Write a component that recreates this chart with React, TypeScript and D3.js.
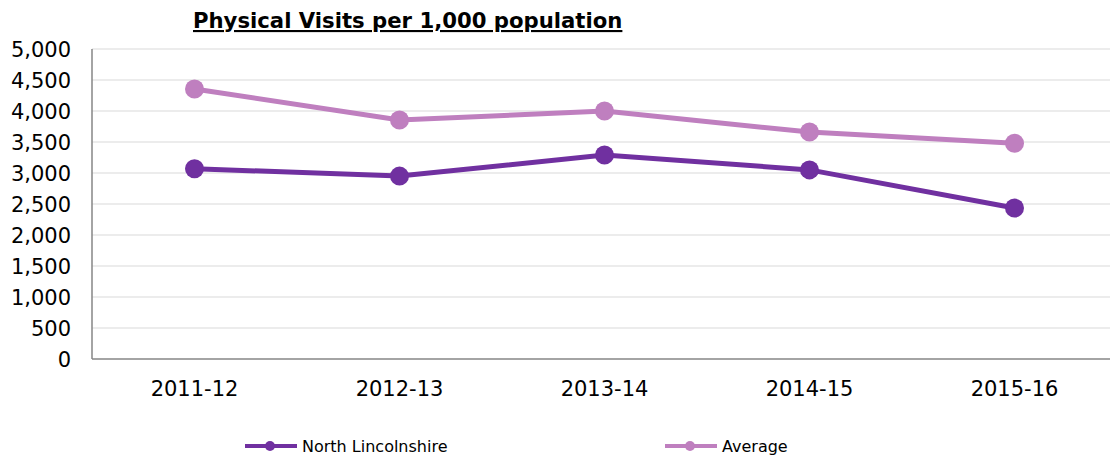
import React from "react";
import * as d3 from "d3";

const categories = ["2011-12", "2012-13", "2013-14", "2014-15", "2015-16"];
const northLincs = [3070, 2950, 3290, 3050, 2435];
const average = [4355, 3855, 4000, 3660, 3480];
const yTicks = [0, 500, 1000, 1500, 2000, 2500, 3000, 3500, 4000, 4500, 5000];
const seriesNames = ["North Lincolnshire", "Average"];
const seriesColors = ["#7030A0", "#BF7FBF"];

const W = 1110;
const H = 457;
const left = 92;
const top = 49;
const bottom = 359;
const right = 1117;

export default function App() {
  const x = d3.scaleBand<string>().domain(categories).range([left, right]);
  const y = d3.scaleLinear().domain([0, 5000]).range([bottom, top]);
  const fmt = d3.format(",");
  const line = d3
    .line<number>()
    .x((_, i) => (x(categories[i]) as number) + x.bandwidth() / 2)
    .y((d) => y(d));
  const series = [northLincs, average];
  const font = "Verdana, 'DejaVu Sans', sans-serif";
  return (
    <svg
      width={W}
      height={H}
      style={{ position: "absolute", left: 0, top: 0, background: "#fff" }}
      fontFamily={font}
    >
      <rect x={0} y={0} width={W} height={H} fill="#fff" />
      <text
        x={193}
        y={28}
        fontSize={21.2}
        fontWeight="bold"
        textDecoration="underline"
        fill="#000"
      >
        Physical Visits per 1,000 population
      </text>
      {yTicks.map((t) => (
        <g key={t}>
          {t > 0 && (
            <line x1={left} x2={W} y1={y(t)} y2={y(t)} stroke="#D9D9D9" strokeWidth={1} />
          )}
          <text x={71} y={y(t)} dy="0.36em" textAnchor="end" fontSize={21} fill="#000">
            {fmt(t)}
          </text>
        </g>
      ))}
      <line x1={left} x2={left} y1={top} y2={bottom} stroke="#868686" strokeWidth={1.5} />
      <line x1={left} x2={W} y1={bottom} y2={bottom} stroke="#868686" strokeWidth={1.5} />
      {categories.map((c) => (
        <text
          key={c}
          x={(x(c) as number) + x.bandwidth() / 2}
          y={396}
          textAnchor="middle"
          fontSize={21}
          fill="#000"
        >
          {c}
        </text>
      ))}
      {series.map((s, si) => (
        <g key={si}>
          <path d={line(s) || ""} fill="none" stroke={seriesColors[si]} strokeWidth={5} />
          {s.map((v, i) => (
            <circle
              key={i}
              cx={(x(categories[i]) as number) + x.bandwidth() / 2}
              cy={y(v)}
              r={9.5}
              fill={seriesColors[si]}
            />
          ))}
        </g>
      ))}
      {seriesNames.map((n, i) => {
        const lx = i === 0 ? 245 : 665;
        return (
          <g key={n}>
            <line x1={lx} x2={lx + 52} y1={446} y2={446} stroke={seriesColors[i]} strokeWidth={4} />
            <circle cx={lx + 25} cy={446} r={5} fill={seriesColors[i]} />
            <text x={lx + 57} y={446} dy="0.35em" fontSize={16} fill="#000" fontFamily="Tahoma, 'DejaVu Sans', sans-serif">
              {n}
            </text>
          </g>
        );
      })}
    </svg>
  );
}
